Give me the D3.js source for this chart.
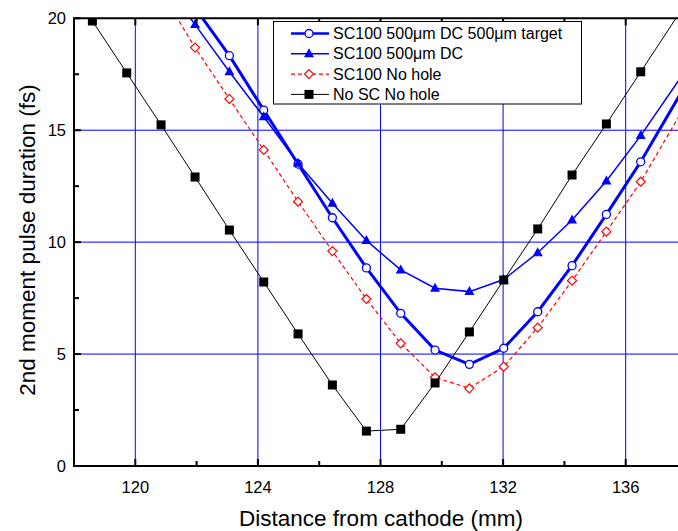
<!DOCTYPE html>
<html>
<head>
<meta charset="utf-8">
<script src="https://cdn.jsdelivr.net/npm/d3@7"></script>
<style>
  html, body { margin: 0; padding: 0; background: #fff; }
  svg { display: block; font-family: "Liberation Sans", Arial, sans-serif; }
</style>
</head>
<body>
<svg id="chart" width="678" height="531"></svg>
<script>
// Distance from cathode (mm) for each measurement point
const distance = [118.60, 119.72, 120.84, 121.95, 123.07, 124.19, 125.31, 126.43, 127.54,
                  128.66, 129.78, 130.90, 132.02, 133.13, 134.25, 135.37, 136.49, 138.73];

// 2nd moment pulse duration (fs); null where no point was taken
const targetDC   = [null, null, null, 20.47, 18.33, 15.90, 13.49, 11.09, 8.85,
                    6.82, 5.18, 4.54, 5.26, 6.89, 8.95, 11.24, 13.59, 18.83];
const holeDC     = [null, null, 21.80, 19.72, 17.61, 15.60, 13.52, 11.74, 10.07,
                    8.76, 7.94, 7.79, 8.33, 9.53, 10.99, 12.73, 14.76, 19.22];
const noHole     = [null, null, 21.20, 18.69, 16.40, 14.12, 11.81, 9.60, 7.46,
                    5.48, 3.96, 3.47, 4.44, 6.18, 8.28, 10.47, 12.70, 17.94];
const noSCnoHole = [19.88, 17.56, 15.24, 12.91, 10.54, 8.22, 5.90, 3.62, 1.56,
                    1.64, 3.71, 5.99, 8.31, 10.59, 13.00, 15.28, 17.61, 22.27];

const seriesNames = ["SC100 500\u03bcm DC 500\u03bcm target", "SC100 500\u03bcm DC",
                     "SC100 No hole", "No SC No hole"];

const xMajor = [120, 124, 128, 132, 136];
const xMinor = [118, 122, 126, 130, 134, 138];
const yMajor = [0, 5, 10, 15, 20];
const yMinor = [2.5, 7.5, 12.5, 17.5];

const svg = d3.select("#chart");
const L = 74, T = 18.3, B = 466;
const x = d3.scaleLinear().domain([118, 138]).range([L, L + 20 * 30.65]);
const y = d3.scaleLinear().domain([0, 20]).range([B, T]);
const R = x(138);

svg.append("defs").append("clipPath").attr("id", "plotClip")
  .append("rect").attr("x", L).attr("y", T).attr("width", R - L).attr("height", B - T);

// grid
const grid = svg.append("g");
grid.selectAll("line.vx").data(xMajor).join("line")
  .attr("x1", d => x(d)).attr("x2", d => x(d)).attr("y1", T).attr("y2", B)
  .attr("stroke", "#0000ff").attr("stroke-width", 1);
grid.selectAll("line.hy").data([5, 10, 15]).join("line")
  .attr("x1", L).attr("x2", R).attr("y1", d => y(d)).attr("y2", d => y(d))
  .attr("stroke", "#0000ff").attr("stroke-width", 1);

// series
const plot = svg.append("g").attr("clip-path", "url(#plotClip)");
const lineGen = vals => d3.line()
  .defined((d, i) => vals[i] !== null)
  .x((d, i) => x(distance[i]))
  .y((d, i) => y(vals[i] === null ? 0 : vals[i]))(vals);
const pts = vals => distance.map((d, i) => ({ x: d, y: vals[i] })).filter(p => p.y !== null);

const seriesDefs = [
  { vals: targetDC, color: "#0000ff", width: 3, dash: null, marker: "circle" },
  { vals: holeDC, color: "#0000ff", width: 1.5, dash: null, marker: "triangle" },
  { vals: noHole, color: "#ff0000", width: 1.2, dash: "4,3", marker: "diamond" },
  { vals: noSCnoHole, color: "#000000", width: 1, dash: null, marker: "square" }
];

function drawMarker(g, kind, color) {
  if (kind === "circle") {
    g.append("circle").attr("r", 4).attr("fill", "#fff").attr("stroke", color).attr("stroke-width", 1.3);
  } else if (kind === "triangle") {
    g.append("path").attr("d", "M0,-5.5L5,3.5L-5,3.5Z").attr("fill", color);
  } else if (kind === "diamond") {
    g.append("path").attr("d", "M0,-4.5L4.5,0L0,4.5L-4.5,0Z").attr("fill", "#fff")
      .attr("stroke", color).attr("stroke-width", 1.2);
  } else {
    g.append("rect").attr("x", -4.5).attr("y", -4.5).attr("width", 9).attr("height", 9).attr("fill", color);
  }
}

seriesDefs.forEach(s => {
  const g = plot.append("g");
  g.append("path").attr("d", lineGen(s.vals)).attr("fill", "none")
    .attr("stroke", s.color).attr("stroke-width", s.width)
    .attr("stroke-dasharray", s.dash);
  g.selectAll("g.m").data(pts(s.vals)).join("g")
    .attr("transform", p => `translate(${x(p.x)},${y(p.y)})`)
    .each(function () { drawMarker(d3.select(this), s.marker, s.color); });
});

// axes frame
const axisG = svg.append("g").attr("stroke", "#000");
axisG.append("line").attr("x1", L).attr("x2", R).attr("y1", B).attr("y2", B).attr("stroke-width", 2);
axisG.append("line").attr("x1", L).attr("x2", R).attr("y1", T).attr("y2", T).attr("stroke-width", 2);
axisG.append("line").attr("x1", L).attr("x2", L).attr("y1", T - 1).attr("y2", B + 1).attr("stroke-width", 2);

// ticks (inside)
[[xMajor, 7], [xMinor, 5]].forEach(([arr, len]) => {
  axisG.selectAll(null).data(arr).join("line")
    .attr("x1", d => x(d)).attr("x2", d => x(d)).attr("y1", B).attr("y2", B - len).attr("stroke-width", 2);
  axisG.selectAll(null).data(arr).join("line")
    .attr("x1", d => x(d)).attr("x2", d => x(d)).attr("y1", T).attr("y2", T + len).attr("stroke-width", 2);
});
[[yMajor, 7], [yMinor, 5]].forEach(([arr, len]) => {
  axisG.selectAll(null).data(arr).join("line")
    .attr("x1", L).attr("x2", L + len).attr("y1", d => y(d)).attr("y2", d => y(d)).attr("stroke-width", 2);
});

// tick labels
svg.selectAll("text.xl").data(xMajor).join("text")
  .attr("x", d => x(d)).attr("y", 493).attr("text-anchor", "middle")
  .attr("font-size", 16.5).text(d => d);
svg.selectAll("text.yl").data(yMajor).join("text")
  .attr("x", 66).attr("y", d => y(d) + 6).attr("text-anchor", "end")
  .attr("font-size", 16.5).text(d => d);

// axis titles
svg.append("text").attr("x", 381).attr("y", 526).attr("text-anchor", "middle")
  .attr("font-size", 22.5).text("Distance from cathode (mm)");
svg.append("text").attr("transform", "translate(35,240) rotate(-90)")
  .attr("text-anchor", "middle").attr("font-size", 22.5).text("2nd moment pulse duration (fs)");

// legend
const lg = svg.append("g");
lg.append("rect").attr("x", 273.5).attr("y", 21.5).attr("width", 308).attr("height", 82.5)
  .attr("fill", "#fff").attr("stroke", "#000").attr("stroke-width", 1);
seriesDefs.forEach((s, i) => {
  const cy = 33.5 + i * 20.3;
  lg.append("line").attr("x1", 291).attr("x2", 329).attr("y1", cy).attr("y2", cy)
    .attr("stroke", s.color).attr("stroke-width", s.width === 3 ? 2.5 : s.width)
    .attr("stroke-dasharray", s.dash);
  const m = lg.append("g").attr("transform", `translate(309,${cy})`);
  drawMarker(m, s.marker, s.color);
  lg.append("text").attr("x", 333).attr("y", cy + 5.5).attr("font-size", 16).text(seriesNames[i]);
});
</script>
</body>
</html>
